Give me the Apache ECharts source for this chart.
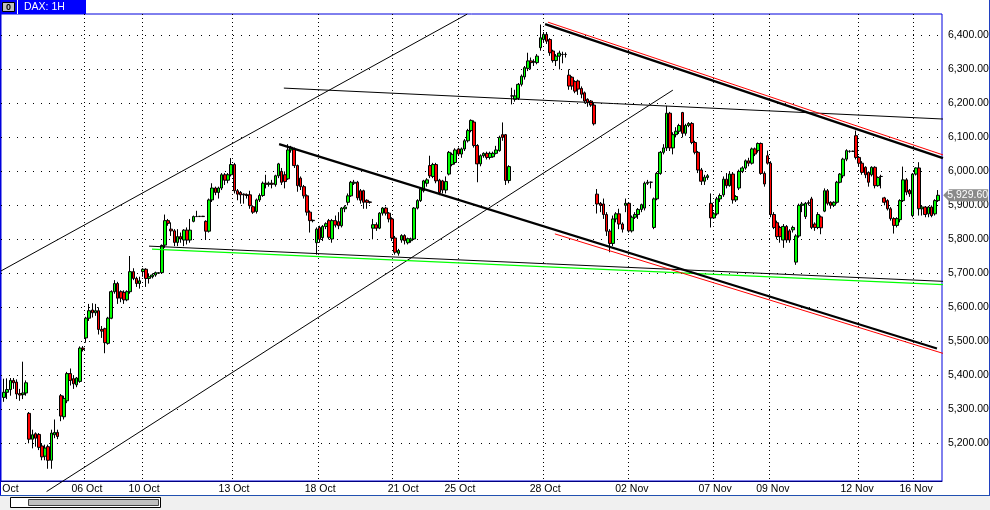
<!DOCTYPE html>
<html><head><meta charset="utf-8">
<script src="https://cdn.jsdelivr.net/npm/echarts@6/dist/echarts.min.js"></script>
<style>html,body{margin:0;padding:0;background:#fff}#c{width:990px;height:510px}</style>
</head><body><div id="c"></div>
<script>
// ---- DAX 1H candles (index order, left to right) ----
const opens = [5335,5350,5358,5385,5380,5346,5343,5348,5288,5212,
5228,5226,5192,5162,5190,5150,5225,5232,5340,5278,
5325,5405,5390,5372,5382,5480,5510,5568,5592,5584,
5590,5535,5537,5494,5568,5646,5670,5646,5644,5622,
5646,5705,5685,5670,5705,5712,5685,5690,5695,5700,
5702,5783,5855,5830,5825,5791,5808,5798,5827,5798,
5853,5867,5867,5868,5853,5824,5916,5951,5938,5951,
5990,5974,5990,6020,5943,5938,5933,5931,5931,5896,
5882,5916,5929,5965,5962,5965,5961,5987,6000,5990,
5978,6063,6066,6017,5980,5955,5928,5880,5856,5790,
5835,5805,5838,5855,5801,5855,5852,5840,5890,5909,
5928,5965,5968,5943,5943,5915,5910,5833,5843,5833,
5877,5892,5877,5860,5804,5759,5798,5811,5790,5796,
5801,5892,5914,5943,5965,6017,5985,6020,5974,5972,
5945,5992,6020,6026,6066,6051,6066,6090,6120,6145,
6076,6022,6046,6053,6041,6043,6053,6061,6108,6108,
5973,6222,6212,6215,6256,6278,6303,6325,6322,6320,
6364,6388,6403,6388,6354,6326,6339,6344,6344,6283,
6277,6264,6266,6244,6231,6212,6207,6195,5933,5906,
5904,5873,5824,5788,5860,5875,5845,5900,5906,5825,
5865,5873,5888,5892,5965,5968,5835,5919,5994,6056,
6069,6171,6069,6108,6118,6173,6112,6135,6141,6085,
6056,6004,5971,5982,5906,5863,5875,5919,5931,5977,
5958,5992,5916,5951,6000,6010,6031,6024,6066,6061,
6082,5994,6046,6024,5873,5849,5835,5798,5838,5825,
5828,5733,5810,5900,5867,5908,5919,5845,5835,5866,
5883,5943,5909,5900,5909,5968,5987,6036,6059,6059,
6105,6041,6024,6012,5997,5990,6012,5958,5985,5922,
5914,5890,5861,5841,5858,5914,5975,5944,5870,5992,
6010,5890,5895,5875,5895,5875,5914];
const closes = [5350,5358,5385,5378,5345,5342,5348,5378,5212,5225,
5215,5188,5160,5186,5150,5230,5232,5220,5280,5332,
5405,5385,5375,5392,5480,5476,5568,5590,5584,5590,
5535,5530,5496,5568,5646,5670,5627,5627,5622,5646,
5705,5685,5670,5678,5712,5685,5690,5695,5702,5702,
5782,5855,5847,5825,5791,5808,5801,5827,5798,5827,
5867,5867,5868,5867,5824,5916,5951,5938,5951,5990,
5974,5990,6020,5943,5933,5931,5931,5929,5899,5880,
5916,5929,5965,5962,5965,5962,5987,6022,5968,5970,
6063,6071,6017,5958,5955,5928,5880,5855,5855,5830,
5800,5838,5846,5806,5855,5842,5840,5892,5895,5928,
5968,5968,5922,5915,5909,5909,5909,5843,5833,5877,
5892,5877,5860,5804,5762,5767,5811,5796,5802,5801,
5892,5914,5948,5972,5975,5987,6020,5972,5938,5945,
5970,6056,6050,6063,6051,6066,6090,6120,6150,6076,
6022,6046,6053,6041,6053,6053,6063,6100,6100,5973,
6014,6222,6222,6256,6280,6305,6325,6320,6322,6339,
6393,6403,6383,6349,6326,6339,6348,6344,6344,6251,
6251,6236,6242,6227,6207,6202,6195,6140,5904,5900,
5873,5824,5788,5860,5875,5845,5830,5906,5825,5865,
5873,5888,5902,5965,5968,5968,5919,5994,6056,6069,
6171,6069,6108,6118,6135,6112,6135,6141,6085,6056,
6004,5971,5983,5987,5863,5875,5919,5929,5977,5958,
5992,5916,5926,6000,6010,6031,6024,6066,6051,6082,
5994,5963,6024,5873,5835,5808,5808,5838,5798,5798,
5835,5810,5900,5904,5906,5906,5835,5835,5873,5834,
5943,5906,5900,5909,5968,5992,6036,6061,6059,6059,
6041,6024,5997,5990,5968,6012,5958,5982,5985,5909,
5890,5861,5841,5861,5914,5975,5939,5934,5992,6010,
5890,5895,5873,5895,5870,5914,5929.6];
const lows = [5322,5330,5340,5360,5330,5325,5330,5340,5200,5185,
5190,5180,5150,5150,5125,5125,5215,5212,5265,5270,
5318,5370,5360,5365,5378,5470,5496,5560,5570,5575,
5520,5510,5465,5490,5565,5640,5610,5615,5610,5618,
5640,5680,5660,5655,5690,5660,5670,5685,5690,5698,
5700,5775,5840,5810,5780,5780,5790,5780,5785,5790,
5850,5866,5866,5866,5798,5820,5910,5930,5920,5945,
5960,5965,5985,5935,5915,5905,5905,5920,5890,5875,
5876,5910,5925,5950,5955,5950,5955,5980,5960,5950,
5975,6055,6010,5940,5945,5920,5870,5820,5850,5755,
5790,5795,5830,5800,5790,5835,5830,5835,5880,5900,
5925,5960,5915,5905,5890,5890,5905,5800,5825,5830,
5870,5870,5850,5795,5755,5752,5790,5785,5785,5790,
5798,5888,5910,5938,5955,5980,5980,5965,5930,5935,
5935,5988,6015,6020,6045,6040,6060,6085,6115,6070,
5968,6015,6040,6035,6035,6040,6050,6058,6090,5960,
5965,6197,6205,6210,6250,6270,6295,6300,6310,6315,
6355,6380,6375,6340,6320,6310,6300,6318,6335,6240,
6240,6230,6225,6215,6200,6190,6190,6135,5876,5880,
5860,5810,5762,5780,5850,5830,5820,5880,5820,5820,
5860,5860,5880,5885,5960,5950,5830,5915,5990,6050,
6060,6060,6050,6100,6110,6100,6105,6130,6080,6050,
5995,5960,5960,5975,5835,5860,5870,5910,5925,5950,
5955,5905,5910,5945,5995,6005,6015,6020,6045,6055,
5990,5955,6020,5865,5830,5800,5790,5775,5790,5790,
5820,5725,5805,5880,5860,5900,5830,5825,5830,5815,
5880,5900,5890,5895,5905,5965,5980,6030,6055,6057,
6035,6015,5990,5980,5955,5985,5950,5955,5950,5900,
5885,5855,5817,5835,5850,5910,5930,5925,5865,5988,
5870,5870,5865,5865,5865,5870,5910];
const highs = [5390,5391,5392,5392,5388,5360,5440,5385,5292,5240,
5232,5230,5200,5196,5196,5240,5270,5240,5345,5340,
5410,5420,5400,5395,5485,5486,5572,5610,5612,5610,
5600,5545,5540,5572,5650,5680,5675,5650,5650,5650,
5751,5715,5690,5690,5715,5715,5700,5700,5705,5703,
5785,5873,5860,5850,5830,5830,5820,5830,5835,5860,
5870,5884,5868,5869,5856,5920,5965,5955,5955,5995,
5995,5995,6039,6025,5948,5942,5935,5935,5943,5900,
5920,5935,5970,5990,5970,5975,5990,6025,6010,6000,
6080,6075,6070,6020,5985,5960,5932,5885,5858,5835,
5840,5842,5850,5860,5860,5870,5880,5895,5900,5935,
5972,5975,5972,5948,5946,5918,5912,5860,5850,5880,
5895,5896,5880,5865,5810,5772,5815,5815,5805,5805,
5895,5918,5950,5975,5980,6046,6025,6025,5978,5975,
5985,6060,6055,6068,6070,6070,6095,6125,6153,6150,
6080,6050,6056,6058,6058,6058,6075,6105,6144,6110,
6018,6246,6240,6260,6285,6310,6349,6335,6330,6345,
6432,6410,6410,6392,6358,6345,6355,6352,6350,6300,
6280,6268,6270,6250,6235,6215,6210,6200,5948,5910,
5920,5880,5830,5870,5880,5890,5850,5920,5910,5870,
5880,5892,5905,5970,5975,5970,5923,5998,6060,6080,
6193,6175,6115,6130,6140,6175,6140,6145,6145,6090,
6060,6010,5990,5992,5935,5880,5925,5935,5985,5995,
5998,5998,5930,6005,6015,6035,6040,6070,6070,6085,
6085,6000,6061,6030,5880,5855,5840,5845,5842,5830,
5840,5815,5905,5910,5910,5915,5925,5850,5880,5870,
5950,5948,5912,5912,5972,5995,6040,6065,6062,6061,
6120,6045,6030,6015,6000,6015,6015,5985,5990,5925,
5918,5895,5865,5865,5918,6014,5980,5948,5995,6012,
6027,5898,5898,5898,5900,5918,5945];

// ---- axis ticks / labels (x in bar-index units) ----
const dateTickPos = [25.4, 43.7, 72.3, 99.5, 123, 143.9, 170.8, 197.8, 224.7, 242.5, 270.7, 288.1];
const dateLabelPos = [2.06, 26.3, 44.4, 72.9, 100.2, 126.5, 144.5, 171.5, 199.0, 225.4, 243.7, 270.4, 289.1];
const dateLabels = ['Oct', '06 Oct', '10 Oct', '13 Oct', '18 Oct', '21 Oct', '25 Oct', '28 Oct', '02 Nov', '07 Nov', '09 Nov', '12 Nov', '16 Nov'];
const priceTicks = [5200, 5300, 5400, 5500, 5600, 5700, 5800, 5900, 6000, 6100, 6200, 6300, 6400];
const lastPrice = 5929.6;

// ---- trend lines: [barIndex, price] end points ----
const upperChannel = [[-0.95, 5707], [146.8, 6462.6]];
const lowerChannel = [[13.5, 5058], [212.0, 6239]];
const flatUpper = [[88.7, 6245], [297.6, 6154]];
const midFalling = [[87.2, 6080], [295.7, 5479]];
const midFallingRed = [[174.6, 5816], [298.5, 5462]];
const topFalling = [[171.5, 6433], [297.6, 6039]];
const topFallingRed = [[172.4, 6439], [299.2, 6043.5]];
const flatLower = [[45.96, 5780], [303.6, 5674]];
const flatLowerGreen = [[46.9, 5771], [297.6, 5667]];

const candleData = opens.map((o, i) => {
  const c = closes[i];
  return [i, o, c, Math.min(lows[i], o, c), Math.max(highs[i], o, c)];
});

const FONT = 'Liberation Sans';
function seg(pts, color, width, z) {
  return { type: 'line', data: pts, symbol: 'none', clip: false, silent: true,
    lineStyle: { color: color, width: width }, z: z || 5, animation: false };
}
function fmtPrice(v) {
  return Number(v).toLocaleString('en-US', { minimumFractionDigits: 2, maximumFractionDigits: 2 });
}

const chart = echarts.init(document.getElementById('c'), null, { renderer: 'canvas' });
const lastSeries = seg(flatUpper, '#000', 1, 5);
lastSeries.markPoint = {
  silent: true,
  symbol: 'path://M0,6L6,0L46,0L46,12L6,12Z',
  symbolSize: [45, 12],
  symbolOffset: [24, 0],
  itemStyle: { color: '#8a8a8a' },
  label: { show: true, position: 'inside', color: '#fff', fontSize: 10.5, fontFamily: FONT,
    offset: [2, 0], formatter: () => fmtPrice(lastPrice) },
  data: [{ coord: [297.2, lastPrice] }]
};

chart.setOption({
  animation: false,
  backgroundColor: '#ffffff',
  grid: { left: 1, top: 14, right: 48, bottom: 29, show: true, borderColor: '#0000dd', borderWidth: 1,
    backgroundColor: 'transparent', outerBoundsMode: 'none', containLabel: false },
  xAxis: {
    type: 'value', min: -0.95, max: 297.3,
    axisLine: { show: true, lineStyle: { color: '#000080', width: 1 } },
    axisTick: { show: false, customValues: dateTickPos },
    axisLabel: { customValues: dateLabelPos, color: '#000', fontSize: 10.5, fontFamily: FONT, margin: 3,
      formatter: (v) => { const i = dateLabelPos.indexOf(v); return i >= 0 ? dateLabels[i] : ''; } },
    splitLine: { show: true, lineStyle: { color: '#000', width: 1, type: [1, 3] } }
  },
  yAxis: {
    type: 'value', position: 'right', min: 5089, max: 6463,
    axisLine: { show: false },
    axisTick: { show: false, customValues: priceTicks },
    axisLabel: { customValues: priceTicks, color: '#000', fontSize: 10.5, fontFamily: FONT, margin: 6,
      formatter: (v) => fmtPrice(v) },
    splitLine: { show: true, lineStyle: { color: '#000', width: 1, type: [1, 7] } }
  },
  series: [
    { type: 'candlestick', data: candleData, encode: { x: 0, y: [1, 2, 3, 4] }, barWidth: 3.1, silent: true, z: 2,
      itemStyle: { color: '#00ff00', color0: '#ff0000', borderColor: '#000', borderColor0: '#000',
        borderColorDoji: '#000', borderWidth: 1 } },
    seg(upperChannel, '#000', 1),
    seg(lowerChannel, '#000', 1),
    lastSeries,
    seg(flatLower, '#000', 1),
    seg(flatLowerGreen, '#00ff00', 1.2),
    seg(midFallingRed, '#ff0000', 1),
    seg(midFalling, '#000', 2.2),
    seg(topFalling, '#000', 2.4),
    seg(topFallingRed, '#ff0000', 1, 6)
  ],
  graphic: [
    { type: 'rect', z: 100, shape: { x: 0, y: 0, width: 86, height: 14 }, style: { fill: '#0000ff' } },
    { type: 'rect', z: 101, shape: { x: 2.5, y: 2.5, width: 12, height: 9 }, style: { fill: '#c0c0c0', stroke: '#000', lineWidth: 1 } },
    { type: 'text', z: 102, x: 8.5, y: 7.5, style: { text: '0', fill: '#000', font: 'bold 9px ' + FONT, align: 'center', verticalAlign: 'middle' } },
    { type: 'line', z: 101, shape: { x1: 17.5, y1: 0, x2: 17.5, y2: 14 }, style: { stroke: '#fff', lineWidth: 1 } },
    { type: 'text', z: 102, x: 24, y: 7.5, style: { text: 'DAX: 1H', fill: '#fff', font: '10.5px ' + FONT, verticalAlign: 'middle' } },
    { type: 'line', z: 100, shape: { x1: 0.5, y1: 0, x2: 0.5, y2: 495 }, style: { stroke: '#0000dd', lineWidth: 1 } },
    { type: 'line', z: 100, shape: { x1: 989.5, y1: 0, x2: 989.5, y2: 495 }, style: { stroke: '#2040c0', lineWidth: 1 } },
    { type: 'rect', z: 100, shape: { x: 0, y: 495, width: 990, height: 15 }, style: { fill: '#f0f0f0' } },
    { type: 'line', z: 101, shape: { x1: 0, y1: 495.5, x2: 990, y2: 495.5 }, style: { stroke: '#2050b0', lineWidth: 1 } },
    { type: 'rect', z: 101, shape: { x: 10.5, y: 497.5, width: 150, height: 10 }, style: { fill: '#fff', stroke: '#000', lineWidth: 1 } },
    { type: 'rect', z: 102, shape: { x: 28.5, y: 499.5, width: 130, height: 6 }, style: { fill: '#c0c0c0', stroke: '#404040', lineWidth: 1 } }
  ]
});
</script>
</body></html>
